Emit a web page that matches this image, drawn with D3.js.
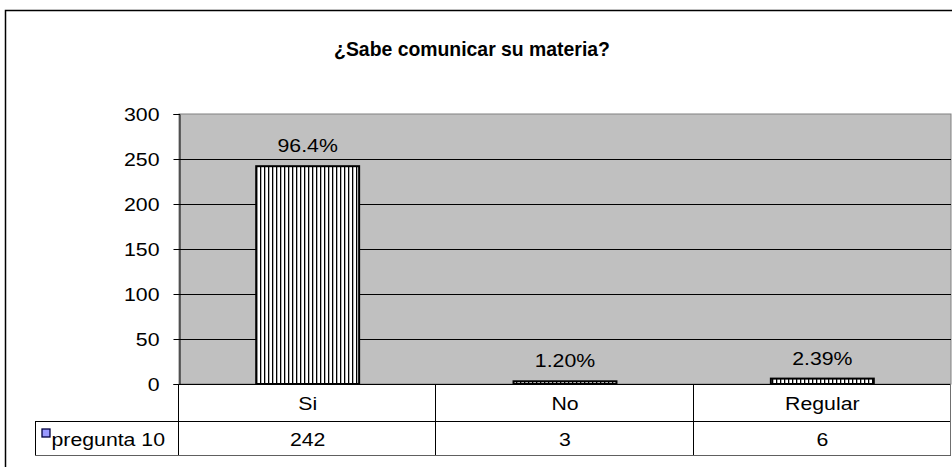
<html>
<head>
  <title>Sabe comunicar su materia</title>
  <script src='https://cdn.jsdelivr.net/npm/d3@7'></script>
</head>
<style type="text/css">
body { margin: 0; background: #fff; }
text { font-family: Arial, "Liberation Sans", sans-serif; fill: #000; }
</style>
<body>
<script>

var categories = ["Si", "No", "Regular"];
var values = [242, 3, 6];
var seriesName = "pregunta 10";
var yTicks = [0, 50, 100, 150, 200, 250, 300];
var title = "¿Sabe comunicar su materia?";

var width = 952,
    height = 467,
    plot = {left: 179, right: 951, top: 114, bottom: 384},
    rowH = [37, 34],
    stretch = 1.15,   // the screenshot text is a bit wider than it is tall
    fsize = 18.5;

var total = d3.sum(values);
var pctFmt = d3.format(".3r");

var svg = d3.select('body')
            .append('svg')
            .attr('width', width)
            .attr('height', height);

var defs = svg.append('defs');
var pat = defs.append('pattern')
              .attr('id', 'stripes')
              .attr('patternUnits', 'userSpaceOnUse')
              .attr('width', 4)
              .attr('height', 4);
pat.append('rect').attr('width', 4).attr('height', 4).attr('fill', '#fff');
pat.append('rect').attr('x', 0).attr('width', 1.3).attr('height', 4).attr('fill', '#000');

var x = d3.scaleBand().domain(categories).range([plot.left, plot.right]).padding(0),
    y = d3.scaleLinear().domain([0, 300]).range([plot.bottom, plot.top]);

function label(sel, px, py, str, anchor, size, weight, sx) {
  return sel.append('text')
            .attr('transform', 'translate(' + px + ',' + py + ') scale(' + (sx || stretch) + ',1)')
            .attr('text-anchor', anchor)
            .style('font-size', (size || fsize) + 'px')
            .style('font-weight', weight || 'normal')
            .text(str);
}

// outer chart frame
svg.append('path')
   .attr('d', 'M5.5,' + (height + 2) + 'V10.5H' + (width + 2))
   .attr('fill', 'none')
   .attr('stroke', '#000')
   .attr('stroke-width', 1.5);

label(svg, 472, 56, title, 'middle', 20, 'bold', 0.97);

// plot area
svg.append('rect')
   .attr('x', plot.left)
   .attr('y', plot.top)
   .attr('width', plot.right - plot.left)
   .attr('height', plot.bottom - plot.top)
   .attr('fill', '#c0c0c0')
   .attr('stroke', '#808080')
   .attr('stroke-width', 1);

svg.selectAll('.grid')
   .data(yTicks.filter(function(d) { return d > 0 && d < 300; }))
   .enter().append('line')
   .attr('class', 'grid')
   .attr('x1', plot.left).attr('x2', plot.right)
   .attr('y1', function(d) { return Math.round(y(d)) + 0.5; })
   .attr('y2', function(d) { return Math.round(y(d)) + 0.5; })
   .attr('stroke', '#000');

// y axis
var yAxis = svg.append('g')
   .attr('transform', 'translate(' + (plot.left + 0.5) + ',0)')
   .call(d3.axisLeft(y).tickValues(yTicks).tickSize(6).tickPadding(14).tickFormat(d3.format('d')));
yAxis.select('.domain').attr('stroke', '#000');
yAxis.selectAll('.tick line').attr('stroke', '#000');
yAxis.selectAll('.tick text').remove();
yAxis.selectAll('.tick').each(function(d) {
  label(d3.select(this), -20, 6.5, d, 'end');
});

// bars
var bw = x.bandwidth() * 0.4;
svg.selectAll('.bar')
   .data(values)
   .enter().append('rect')
   .attr('class', 'bar')
   .attr('x', function(d, i) { return x(categories[i]) + (x.bandwidth() - bw) / 2; })
   .attr('y', function(d) { return y(d); })
   .attr('width', bw)
   .attr('height', function(d) { return y(0) - y(d); })
   .attr('fill', 'url(#stripes)')
   .attr('stroke', '#000')
   .attr('stroke-width', 2);

values.forEach(function(d, i) {
  label(svg, x(categories[i]) + x.bandwidth() / 2, y(d) - 14, pctFmt(d / total * 100) + '%', 'middle');
});

// baseline
svg.append('line')
   .attr('x1', plot.left).attr('x2', plot.right)
   .attr('y1', plot.bottom + 0.5).attr('y2', plot.bottom + 0.5)
   .attr('stroke', '#000');

// data table
var t = svg.append('g');
var r1 = plot.bottom, r2 = plot.bottom + rowH[0], r3 = r2 + rowH[1];
var legendLeft = 35;

t.append('line').attr('x1', legendLeft).attr('x2', plot.right).attr('y1', r2 + 0.5).attr('y2', r2 + 0.5).attr('stroke', '#000');
t.append('line').attr('x1', legendLeft).attr('x2', plot.right).attr('y1', r3 + 0.5).attr('y2', r3 + 0.5).attr('stroke', '#606060');
t.append('line').attr('x1', legendLeft + 0.5).attr('x2', legendLeft + 0.5).attr('y1', r2).attr('y2', r3).attr('stroke', '#000');

var edges = categories.map(function(c) { return x(c); }).concat([plot.right]);
t.selectAll('.vline')
 .data(edges)
 .enter().append('line')
 .attr('class', 'vline')
 .attr('x1', function(d) { return Math.round(d) - 0.5; })
 .attr('x2', function(d) { return Math.round(d) - 0.5; })
 .attr('y1', r1).attr('y2', r3)
 .attr('stroke', function(d, i) { return i === edges.length - 1 ? '#707070' : '#000'; });

categories.forEach(function(c, i) {
  label(t, x(c) + x.bandwidth() / 2, r1 + 25.5, c, 'middle');
  label(t, x(c) + x.bandwidth() / 2, r2 + 24.5, values[i], 'middle');
});

t.append('rect')
 .attr('x', 42).attr('y', 429)
 .attr('width', 8).attr('height', 8)
 .attr('fill', '#9999ff')
 .attr('stroke', '#000040')
 .attr('stroke-width', 1.3);
label(t, 51.5, r2 + 24.5, seriesName, 'start');

</script>
</body>
</html>
